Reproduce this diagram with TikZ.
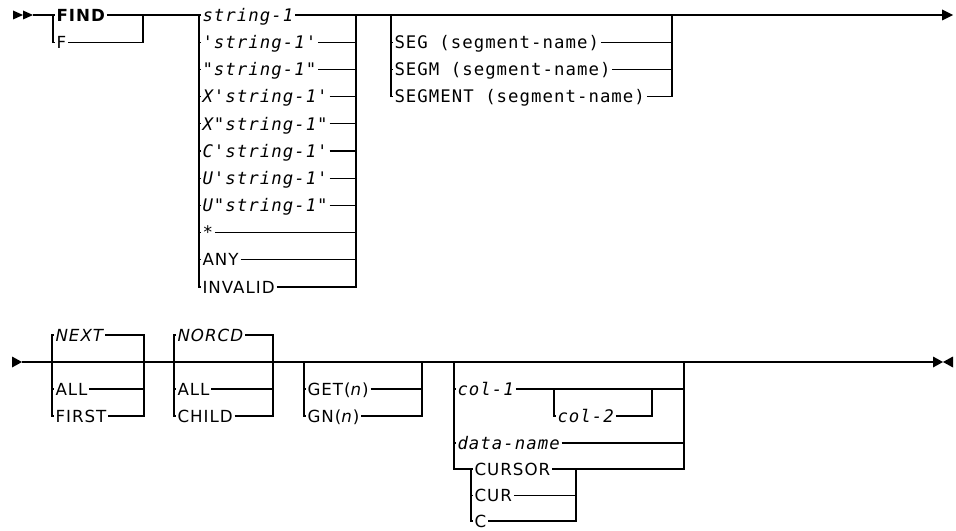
\documentclass[tikz,border=0pt]{standalone}
\usepackage{fontspec}
\setmainfont{DejaVu Sans}[LetterSpace=6]
\newfontfamily\rrmono{DejaVu Sans Mono}[LetterSpace=6]
\tikzset{
  kw/.style={anchor=west,inner sep=1pt,text height=9.1pt,text depth=0pt,
             font=\fontsize{12.5}{14}\selectfont},
  lit/.style={kw,text height=9.5pt,font=\fontsize{13}{15}\selectfont\rrmono},
  var/.style={lit,font=\fontsize{13}{15}\selectfont\rrmono\itshape},
  rrtip/.style={fill=black,line width=0.4pt}
}

\begin{document}
\begin{tikzpicture}[x=0.75pt,y=-0.75pt,line width=1pt]
  \useasboundingbox (0,0) rectangle (956,531);

  % first line
  \fill[rrtip] (13,10.5) -- (23,15) -- (13,19.5) -- cycle
               (23,10.5) -- (33,15) -- (23,19.5) -- cycle;
  \coordinate (begA) at (33,15);
  \coordinate (fL) at (53,15);
  \coordinate (fR) at (143,15);
  \node[kw] (find) at (54.5,15) {\bfseries FIND};
  \node[kw] (f) at (54.5,42.2) {F};
  \draw (begA) -- (fL) -- (find.west);
  \draw (find.east) -- (fR);
  \draw (fL) |- (f.west) (f.east) -| (fR);

  \coordinate (sL) at (199,15);
  \coordinate (sR) at (356,15);
  \draw (fR) -- (sL);
  \foreach \w [count=\i from 0] in {string-1,'string-1',"string-1",X'string-1',X"string-1",
                                    C'string-1',U'string-1',U"string-1",*}{
    \node[var] (s\i) at (200.5,{15+27.2*\i}) {\w};
    \draw (sL) |- (s\i.west) (s\i.east) -| (sR);
  }
  \node[kw] (any) at (200.5,259.8) {ANY};
  \node[kw] (inv) at (200.5,287) {INVALID};
  \draw (sL) |- (any.west) (any.east) -| (sR);
  \draw (sL) |- (inv.west) (inv.east) -| (sR);

  \coordinate (gL) at (391,15);
  \coordinate (gR) at (672,15);
  \coordinate (endA) at (942,15);
  \draw (sR) -- (gL) -- (gR) -- (endA);
  \foreach \w [count=\i] in {SEG,SEGM,SEGMENT}{
    \node[lit] (g\i) at (392.5,{15+27.2*\i}) {\w\ (segment-name)};
    \draw (gL) |- (g\i.west) (g\i.east) -| (gR);
  }
  \fill[rrtip] (942,9.5) -- (953,15) -- (942,20.5) -- cycle;

  % second line
  \fill[rrtip] (12,356.5) -- (22,362) -- (12,367.5) -- cycle;
  \coordinate (begB) at (22,362);
  \coordinate (nL) at (52,362);
  \coordinate (nR) at (144,362);
  \node[kw] (next) at (53.5,335) {\itshape NEXT};
  \node[kw] (all1) at (53.5,389) {ALL};
  \node[kw] (first) at (53.5,416) {FIRST};
  \draw (begB) -- (nL) -- (nR);
  \draw (nL) |- (next.west) (next.east) -| (nR);
  \draw (nL) |- (all1.west) (all1.east) -| (nR);
  \draw (nL) |- (first.west) (first.east) -| (nR);

  \coordinate (oL) at (174,362);
  \coordinate (oR) at (273,362);
  \node[kw] (norcd) at (175.5,335) {\itshape NORCD};
  \node[kw] (all2) at (175.5,389) {ALL};
  \node[kw] (child) at (175.5,416) {CHILD};
  \draw (nR) -- (oL) -- (oR);
  \draw (oL) |- (norcd.west) (norcd.east) -| (oR);
  \draw (oL) |- (all2.west) (all2.east) -| (oR);
  \draw (oL) |- (child.west) (child.east) -| (oR);

  \coordinate (tL) at (304,362);
  \coordinate (tR) at (422,362);
  \node[kw] (get) at (305.5,389) {GET(\textit{n})};
  \node[kw] (gn) at (305.5,416) {GN(\textit{n})};
  \draw (oR) -- (tL) -- (tR);
  \draw (tL) |- (get.west) (get.east) -| (tR);
  \draw (tL) |- (gn.west) (gn.east) -| (tR);

  \coordinate (cL) at (454,362);
  \coordinate (cR) at (684,362);
  \coordinate (c2L) at (554,389);
  \coordinate (c2R) at (652,389);
  \coordinate (uL) at (471,469);
  \coordinate (uR) at (576,469);
  \node[var] (col1) at (455.5,389) {col-1};
  \node[var] (col2) at (555.5,416) {col-2};
  \node[var] (dname) at (455.5,443) {data-name};
  \node[kw] (cursor) at (472.5,469) {CURSOR};
  \node[kw] (cur) at (472.5,495.5) {CUR};
  \node[kw] (c) at (472.5,521) {C};
  \draw (tR) -- (cL) -- (cR);
  \draw (cL) |- (col1.west) (col1.east) -- (c2L) -- (c2R) -| (cR);
  \draw (c2L) |- (col2.west) (col2.east) -| (c2R);
  \draw (cL) |- (dname.west) (dname.east) -| (cR);
  \draw (cL) |- (uL) -- (cursor.west) (cursor.east) -- (uR) -| (cR);
  \draw (uL) |- (cur.west) (cur.east) -| (uR);
  \draw (uL) |- (c.west) (c.east) -| (uR);

  \coordinate (endB) at (933,362);
  \draw (cR) -- (endB);
  \fill[rrtip] (933,356.5) -- (943,362) -- (933,367.5) -- cycle
               (953,356.5) -- (943,362) -- (953,367.5) -- cycle;
\end{tikzpicture}
\end{document}
